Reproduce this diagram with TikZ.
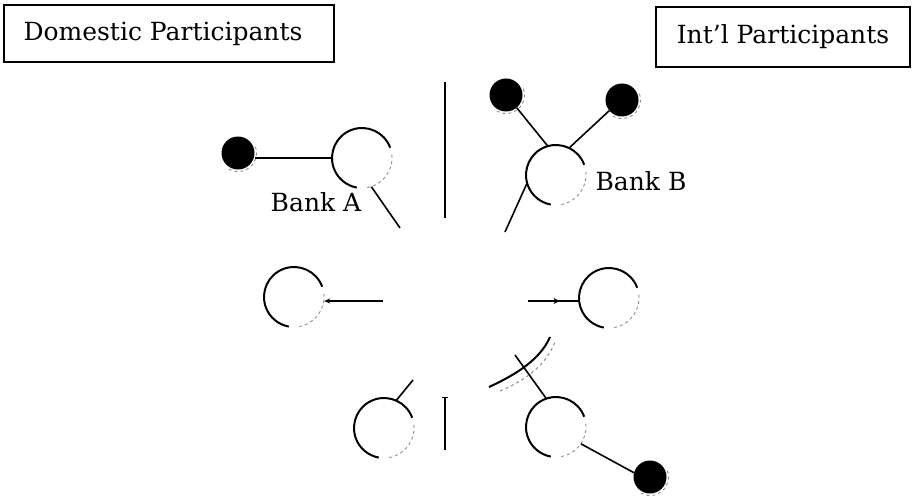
\documentclass[tikz,border=0pt]{standalone}
\usepackage{fontspec}
\setmainfont{DejaVu Serif}
\usetikzlibrary{arrows.meta,calc}
\tikzset{
  bank/.style={circle, draw=none, minimum size=60pt, inner sep=0pt},
  dotnode/.style={circle, fill=black, draw=none, minimum size=33pt, inner sep=0pt},
  conn/.style={line width=1.6pt, black},
  arcline/.style={line width=2pt, black},
  faint/.style={line width=0.9pt, black!45, dash pattern=on 3pt off 3pt},
  labelbox/.style={draw, line width=1.1pt, inner sep=0pt, font=\fontsize{25}{29}\selectfont},
  lbl/.style={font=\fontsize{25}{29}\selectfont, inner sep=0pt},
}
\newcommand{\bankarc}[1]{%
  \draw[arcline] ([shift={(20:30)}]#1.center) arc[start angle=20, end angle=260, radius=30];
  \draw[faint] ([shift={(-80:30)}]#1.center) arc[start angle=-80, end angle=8, radius=30];
}
\newcommand{\dotring}[1]{%
  \draw[faint] ([shift={(-120:18.5)}]#1.center) arc[start angle=-120, end angle=25, radius=18.5];
}
\begin{document}
\begin{tikzpicture}[x=1pt,y=1pt]
\useasboundingbox (0,0) rectangle (912,-500);

% title boxes
\node[labelbox, minimum width=330pt, minimum height=57pt] (dom) at (169,-33.5) {\hspace*{-12pt}Domestic Participants};
\node[labelbox, minimum width=254pt, minimum height=60pt] (intl) at (783,-37) {Int’l Participants};

% dividers
\coordinate (vtopA) at (445,-82);
\coordinate (vtopB) at (445,-218);
\draw[conn] (vtopA) -- (vtopB);
\coordinate (vbotA) at (445,-397);
\coordinate (vbotB) at (445,-450);
\draw[conn] (vbotA) -- (vbotB);
\coordinate (vtickL) at (442,-397);
\coordinate (vtickR) at (448,-397);
\draw[line width=0.8pt] (vtickL) -- (vtickR);

% bank nodes
\node[bank] (A) at (362,-158) {};
\node[bank] (B) at (556,-175) {};
\node[bank] (L) at (294,-297) {};
\node[bank] (R) at (609,-298) {};
\node[bank] (LL) at (384,-428) {};
\node[bank] (LR) at (556,-427) {};
\foreach \n in {A,B,L,R,LL,LR} {\bankarc{\n}}

% dots
\node[dotnode] (dA) at (238,-153) {};
\node[dotnode] (dB1) at (506,-95) {};
\node[dotnode] (dB2) at (622,-100) {};
\node[dotnode] (dLR) at (650,-477) {};
\foreach \n in {dA,dB1,dB2,dLR} {\dotring{\n}}

% labels
\node[lbl] (labA) at (316,-202) {Bank A};
\node[lbl] (labB) at (641,-181) {Bank B};

% connectors
\draw[conn] (dA.east |- A.west) -- (A.west);
\coordinate (Aend) at (400,-228);
\draw[conn] (A.-72) -- (Aend);

\draw[conn] (dB1.-50) -- (B.106);
\draw[conn] (dB2.-140) -- (B.64);
\coordinate (Bend) at (505,-232);
\draw[conn] (B.196) -- (Bend);

\coordinate (Lend) at (383,-301);
\draw[conn, {Stealth[length=6pt,width=5pt]}-] (L.east |- Lend) -- (Lend);
\coordinate (Rend) at (528,-301);
\draw[conn] (Rend) -- (R.west |- Rend);
\draw[conn, -{Stealth[length=6pt,width=6pt]}] (Rend) -- ($(Rend)!0.62!(R.west |- Rend)$);

\coordinate (LLend) at (413,-380);
\draw[conn] (LL.66) -- (LLend);

\coordinate (LRend) at (515,-355);
\draw[conn] (LR.109) -- (LRend);
\draw[conn] (LR.-34) -- (dLR.165);

% curved arc
\coordinate (cvA) at (489,-387);
\coordinate (cvB) at (550,-337);
\draw[arcline] (cvA) .. controls (515,-375) and (540,-360) .. (cvB);
\coordinate (cvC) at (500,-391);
\coordinate (cvD) at (555,-342);
\draw[faint, line width=1pt] (cvC) .. controls (526,-380) and (546,-365) .. (cvD);
\end{tikzpicture}
\end{document}
